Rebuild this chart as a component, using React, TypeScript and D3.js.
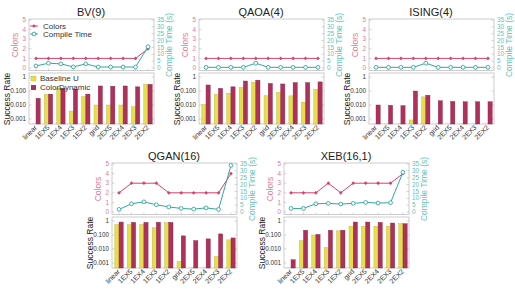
import * as d3 from 'd3';

const categories = ['linear', '1EX5', '1EX4', '1EX3', '1EX2', 'grid', '2EX5', '2EX4', '2EX3', '2EX2'];
const colorTicks = [0, 1, 2, 3, 4, 5];
const timeTicks = [0, 5, 10, 15, 20, 25, 30, 35];
const rateTicks = [1, 0.1, 0.01, 0.001];
const rateTickLabels = ['1', '0.100', '0.010', '0.001'];

// per benchmark: colors used, compile time (s), success rate baseline / dynamic (0 = no bar)
const bvColors = [1, 1, 1, 1, 1, 1, 1, 1, 1, 2];
const bvTime = [1.5, 3.5, 3, 0.8, 3, 0.7, 0.7, 0.7, 0.7, 15.5];
const bvBase = [0, 0.058, 0.16, 0.0037, 0.04, 0.01, 0.01, 0.01, 0.0075, 0.3];
const bvDyn = [0.03, 0.06, 0.16, 0.14, 0.06, 0.23, 0.22, 0.23, 0.2, 0.3];

const qaoaColors = [1, 1, 1, 1, 1, 1, 1, 1, 1, 1];
const qaoaTime = [0.5, 0.5, 0.5, 0.5, 3.5, 0.5, 0.5, 0.5, 0.5, 0.5];
const qaoaBase = [0.011, 0.058, 0.07, 0.18, 0.42, 0.046, 0.08, 0.045, 0.016, 0.13];
const qaoaDyn = [0.27, 0.155, 0.2, 0.52, 0.6, 0.35, 0.32, 0.4, 0.4, 0.45];

const isingColors = [1, 1, 1, 1, 1, 1, 1, 1, 1, 1];
const isingTime = [0.5, 0.5, 0.5, 0.5, 3.5, 0.5, 0.5, 0.5, 0.5, 0.5];
const isingBase = [0, 0, 0, 0.00085, 0.038, 0, 0, 0, 0, 0];
const isingDyn = [0.01, 0.0095, 0.009, 0.1, 0.05, 0.02, 0.018, 0.017, 0.017, 0.017];

const qganColors = [2, 3, 3, 3, 2, 2, 2, 2, 2, 4];
const qganTime = [1.9, 6, 7.4, 5.3, 3.7, 2.6, 2.1, 3, 1.9, 34];
const qganBase = [0.57, 0.55, 0.57, 0.33, 0.75, 0.0013, 0, 0, 0.003, 0.045];
const qganDyn = [0.85, 0.8, 0.8, 0.82, 0.8, 0.087, 0.04, 0.053, 0.12, 0.062];

const xebColors = [2, 2, 2, 3, 2, 3, 3, 3, 3, 4];
const xebTime = [2.6, 2.6, 6, 6.3, 5.8, 6.3, 7, 6.5, 6.8, 29];
const xebBase = [0, 0.04, 0.1, 0.013, 0.2, 0.43, 0.43, 0.43, 0.43, 0.65];
const xebDyn = [0.0017, 0.22, 0.11, 0.22, 0.22, 0.85, 0.85, 0.8, 0.72, 0.65];

const PINK = '#d8416e';
const PINK_LIGHT = '#e27a98';
const TEAL = '#32a89c';
const TEAL_LIGHT = '#62c2b8';
const YELLOW = '#e4e04c';
const YELLOW_EDGE = '#b8b440';
const MAROON = '#b0305c';
const FRAME = '#b8b8b8';
const FONT = 'Liberation Sans, Arial, sans-serif';

interface PanelProps {
  title: string;
  ox: number;
  oy: number;
  colors: number[];
  time: number[];
  base: number[];
  dyn: number[];
  legend?: boolean;
}

function Panel({ title, ox, oy, colors, time, base, dyn, legend }: PanelProps) {
  const left = 29;
  const right = 154;
  const x = d3.scaleBand().domain(categories).range([left + 0.8, right + 0.2]);
  const cx = (c: string) => (x(c) || 0) + x.bandwidth() / 2;

  // top: colors + compile time
  const topY0 = 19;
  const topY1 = 70.5;
  const yc = d3.scaleLinear().domain([0, 5]).range([68, 20]);
  const yt = d3.scaleLinear().domain([0, 35]).range([68, 20]);
  const colorLine = d3.line<number>().x((_, i) => cx(categories[i])).y(d => yc(d));
  const timeLine = d3.line<number>().x((_, i) => cx(categories[i])).y(d => yt(d));
  const sq = d3.symbol().type(d3.symbolSquare).size(7)();

  // bottom: success rate (log)
  const bY0 = 73;
  const bY1 = 124;
  const ys = d3.scaleLog().domain([Math.pow(10, -3.36), Math.pow(10, 0.29)]).range([bY1, bY0]);
  const bw = 4.2;

  return (
    <g transform={`translate(${ox},${oy})`} fontFamily={FONT}>
      <text x={91} y={16} textAnchor="middle" fontSize={11} fill="#222">{title}</text>

      {/* top frame */}
      <rect x={left} y={topY0} width={right - left} height={topY1 - topY0} fill="none" stroke={FRAME} strokeWidth={0.7} />
      {colorTicks.map(t => (
        <g key={'ct' + t}>
          <line x1={left} x2={left + 2.5} y1={yc(t)} y2={yc(t)} stroke={FRAME} strokeWidth={0.6} />
          <text x={left - 3} y={yc(t) + 2.2} textAnchor="end" fontSize={6.3} fill={PINK_LIGHT}>{t}</text>
        </g>
      ))}
      {timeTicks.map(t => (
        <g key={'tt' + t}>
          <line x1={right} x2={right - 2.5} y1={yt(t)} y2={yt(t)} stroke={FRAME} strokeWidth={0.6} />
          <text x={right + 3} y={yt(t) + 2.2} fontSize={6.3} fill={TEAL_LIGHT}>{t}</text>
        </g>
      ))}
      {categories.map(c => (
        <line key={'tx' + c} x1={cx(c)} x2={cx(c)} y1={topY1} y2={topY1 - 2} stroke={FRAME} strokeWidth={0.6} />
      ))}
      <text transform={`translate(18,45) rotate(-90)`} textAnchor="middle" fontSize={8.5} fill={PINK_LIGHT}>Colors</text>
      <text transform={`translate(172,45) rotate(-90)`} textAnchor="middle" fontSize={8.5} fill={TEAL_LIGHT}>Compile Time (s)</text>

      <path d={colorLine(colors) || ''} fill="none" stroke={PINK} strokeWidth={1} />
      {colors.map((v, i) => (
        <path key={'cm' + i} d={sq || ''} transform={`translate(${cx(categories[i])},${yc(v)}) rotate(45)`} fill={PINK} />
      ))}
      <path d={timeLine(time) || ''} fill="none" stroke={TEAL} strokeWidth={1} />
      {time.map((v, i) => (
        <circle key={'tm' + i} cx={cx(categories[i])} cy={yt(v)} r={1.9} fill="#fff" stroke={TEAL} strokeWidth={0.9} />
      ))}

      {legend && (
        <g>
          <line x1={30} x2={38} y1={26} y2={26} stroke={PINK} strokeWidth={1} />
          <path d={sq || ''} transform="translate(34,26) rotate(45)" fill={PINK} />
          <text x={43} y={28.8} fontSize={8} fill="#333">Colors</text>
          <line x1={30} x2={38} y1={34} y2={34} stroke={TEAL} strokeWidth={1} />
          <circle cx={34} cy={34} r={1.9} fill="#fff" stroke={TEAL} strokeWidth={0.9} />
          <text x={43} y={36.8} fontSize={8} fill="#333">Compile Time</text>
        </g>
      )}

      {/* bottom frame */}
      <rect x={left} y={bY0} width={right - left} height={bY1 - bY0} fill="none" stroke={FRAME} strokeWidth={0.7} />
      {rateTicks.map((t, i) => (
        <g key={'rt' + t}>
          <line x1={left} x2={left + 2.5} y1={ys(t)} y2={ys(t)} stroke={FRAME} strokeWidth={0.6} />
          <line x1={right} x2={right - 2.5} y1={ys(t)} y2={ys(t)} stroke={FRAME} strokeWidth={0.6} />
          <text x={left - 3} y={ys(t) + 2.2} textAnchor="end" fontSize={6.3} fill="#333">{rateTickLabels[i]}</text>
        </g>
      ))}
      <text transform={`translate(10,99) rotate(-90)`} textAnchor="middle" fontSize={8.5} fill="#222">Success Rate</text>

      {categories.map((c, i) => {
        const b = base[i];
        const d = dyn[i];
        const c0 = cx(c);
        return (
          <g key={'bar' + c}>
            {b > 0 ? (
              <rect x={c0 - bw} y={ys(b)} width={bw} height={bY1 - ys(b)} fill={YELLOW} stroke={YELLOW_EDGE} strokeWidth={0.4} />
            ) : (
              <line x1={c0 - bw} x2={c0} y1={bY1 - 0.6} y2={bY1 - 0.6} stroke="#ccc" strokeWidth={0.6} />
            )}
            {d > 0 && (
              <rect x={c0} y={ys(d)} width={bw} height={bY1 - ys(d)} fill={MAROON} stroke="#8a2448" strokeWidth={0.4} />
            )}
            <text transform={`translate(${c0 + 1.5},${bY1 + 4}) rotate(-45)`} textAnchor="end" fontSize={7} fill="#333">{c}</text>
          </g>
        );
      })}

      {legend && (
        <g>
          <rect x={31} y={76} width={5} height={5} fill={YELLOW} stroke={YELLOW_EDGE} strokeWidth={0.4} />
          <text x={40} y={81} fontSize={8} fill="#333">Baseline U</text>
          <rect x={31} y={85} width={5} height={5} fill={MAROON} />
          <text x={40} y={90} fontSize={8} fill="#333">ColorDynamic</text>
        </g>
      )}
    </g>
  );
}

export default function App() {
  return (
    <svg width={515} height={293} style={{ position: 'absolute', left: 0, top: 0, background: '#fff' }}>
      <Panel title="BV(9)" ox={0} oy={0} colors={bvColors} time={bvTime} base={bvBase} dyn={bvDyn} legend />
      <Panel title="QAOA(4)" ox={170} oy={0} colors={qaoaColors} time={qaoaTime} base={qaoaBase} dyn={qaoaDyn} />
      <Panel title="ISING(4)" ox={340} oy={0} colors={isingColors} time={isingTime} base={isingBase} dyn={isingDyn} />
      <Panel title="QGAN(16)" ox={83} oy={144} colors={qganColors} time={qganTime} base={qganBase} dyn={qganDyn} />
      <Panel title="XEB(16,1)" ox={255} oy={144} colors={xebColors} time={xebTime} base={xebBase} dyn={xebDyn} />
    </svg>
  );
}
